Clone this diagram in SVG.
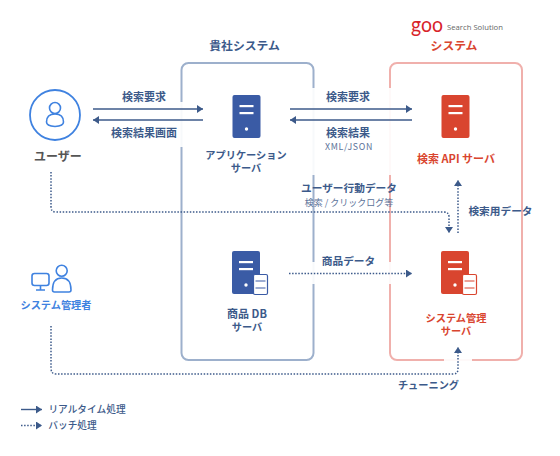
<svg xmlns="http://www.w3.org/2000/svg" width="560" height="456" viewBox="0 0 560 456">
<style>
text{font-family:"Noto Sans CJK JP","Noto Sans",sans-serif;font-weight:700;font-size:10.700px;text-anchor:middle;fill:#3c5a8a}
.kj{font-size:11px}
.sub{font-weight:400;font-size:9px;fill:#5b7299}
.nd{font-size:10.200px}
.lg{font-weight:500;font-size:9.700px}
.bl{fill:#3a5ba5}.rd{fill:#d9452f}
.solid{fill:none;stroke:#3c5a8a;stroke-width:1.400}
.dot{fill:none;stroke:#3c5a8a;stroke-width:1.500;stroke-dasharray:1.500 1.600}
.halo{fill:#fff;fill-opacity:.92}
.ic{fill:none;stroke:#3f82e0;stroke-width:1.600}
</style>
<defs>
<marker id="a" markerUnits="userSpaceOnUse" markerWidth="7" markerHeight="9" refX="6" refY="4" orient="auto"><path d="M0 0L6 4L0 8Z" fill="#3c5a8a"/></marker>
<g id="srv"><rect width="28" height="43" rx="2"/><rect x="7" y="10" width="14" height="2.200" fill="#fff"/><rect x="7" y="17" width="14" height="2.200" fill="#fff"/><circle cx="14" cy="34" r="1.700" fill="#fff"/></g>
</defs>
<g id="system-blue"><rect x="181.500" y="63" width="132" height="297" rx="7" fill="none" stroke="#9db0cc" stroke-width="2"/><text x="244.500" y="50" style="font-size:11.800px">貴社システム</text></g>
<g id="system-red"><rect x="390" y="63" width="132" height="297" rx="7" fill="none" stroke="#f0b0ac" stroke-width="2"/>
<g id="goo-logo"><text x="427" y="32" style="font-family:'Lato',sans-serif;font-size:22px;fill:#d8232a;font-weight:400" textLength="32" lengthAdjust="spacingAndGlyphs">goo</text><text x="475" y="30" style="font-family:'Open Sans',sans-serif;font-size:7.700px;font-weight:400;fill:#666">Search Solution</text></g>
<text x="454" y="50" style="font-size:11.800px;fill:#d9452f">システム</text></g>
<rect class="halo" x="178" y="102" width="8" height="45"/>
<rect class="halo" x="309" y="88" width="8" height="87"/>
<rect class="halo" x="386" y="88" width="8" height="87"/>
<rect class="halo" x="309" y="262" width="8" height="22"/>
<rect class="halo" x="386" y="262" width="8" height="22"/>
<rect class="halo" x="444" y="356" width="28" height="8"/>
<g id="connectors">
<path class="solid" d="M93 109H203" marker-end="url(#a)"/>
<path class="solid" d="M203 120H93" marker-end="url(#a)"/>
<path class="solid" d="M290 109H412" marker-end="url(#a)"/>
<path class="solid" d="M412 120H290" marker-end="url(#a)"/>
<path class="dot" d="M51 172V207Q51 212 56 212H444Q449 212 449 217V233" marker-end="url(#a)"/>
<path class="dot" d="M458 233V180" marker-end="url(#a)"/>
<path class="dot" d="M289 273.500H412" marker-end="url(#a)"/>
<path class="dot" d="M51 326V368Q51 374 56 374H453Q458 374 458 369V347" marker-end="url(#a)"/>
</g>
<g id="labels">
<text x="144" y="101" class="kj">検索要求</text><text x="144" y="137" class="kj">検索結果画面</text>
<text x="348" y="101" class="kj">検索要求</text><text x="348" y="137" class="kj">検索結果</text>
<text x="349" y="150" class="sub" style="letter-spacing:.7px;font-size:8.800px">XML/JSON</text>
<text x="349" y="192">ユーザー行動データ</text>
<text x="349" y="206" class="sub">検索 / クリックログ等</text>
<text x="500.500" y="215">検索用データ</text>
<text x="348.500" y="265">商品データ</text>
<text x="428.500" y="389" class="nd">チューニング</text>
</g>
<g id="user"><circle cx="55" cy="115" r="25" fill="none" stroke="#3f82e0" stroke-width="1.800"/><circle cx="55" cy="108" r="5.500" class="ic"/><path class="ic" d="M46.500 122Q46.500 114 55 114Q63.500 114 63.500 122Q63.500 126 55 126.500Q46.500 126 46.500 122Z"/><text x="58" y="160.500" style="font-size:12px;fill:#555">ユーザー</text></g>
<g id="admin"><rect x="32" y="273.500" width="17" height="12" rx="2.500" class="ic"/><path class="ic" d="M36 290H45M40.500 286V290"/><circle cx="61.700" cy="270.700" r="5.500" class="ic"/><path class="ic" d="M52.500 290Q52.500 278 61.700 278Q71 278 71 290Q71 292 69 292H54.500Q52.500 292 52.500 290Z"/><text x="56" y="309" class="nd" style="fill:#3f82e0">システム管理者</text></g>
<g id="app-server"><use href="#srv" x="232.500" y="95" class="bl"/><text class="nd"><tspan x="246" y="159">アプリケーション</tspan><tspan x="246" y="172">サーバ</tspan></text></g>
<g id="api-server"><use href="#srv" x="441.500" y="95" class="rd"/><text x="456" y="163" class="kj" style="fill:#d9452f">検索 API サーバ</text></g>
<g id="db-server"><use href="#srv" x="232" y="251" class="bl"/><rect x="253.500" y="274.500" width="14" height="20" rx="1.500" fill="#fff" stroke="#3a5ba5" stroke-width="1.200"/><path d="M255.500 281H265.500M255.500 288H265.500" stroke="#3a5ba5" stroke-width="1.200"/><text class="kj"><tspan x="247" y="318">商品 DB</tspan><tspan x="247" y="331" style="font-size:10.200px">サーバ</tspan></text></g>
<g id="mgmt-server"><use href="#srv" x="441" y="251" class="rd"/><rect x="462.500" y="274.500" width="14" height="20" rx="1.500" fill="#fff" stroke="#d9452f" stroke-width="1.200"/><path d="M464.500 281H474.500M464.500 288H474.500" stroke="#d9452f" stroke-width="1.200"/><text class="nd" style="fill:#d9452f"><tspan x="456" y="321.500">システム管理</tspan><tspan x="456" y="334.500">サーバ</tspan></text></g>
<g id="legend"><path class="solid" d="M21 409.500H42" marker-end="url(#a)"/><path class="dot" d="M21 425.500H42" marker-end="url(#a)"/><text x="87" y="413" class="lg">リアルタイム処理</text><text x="72.500" y="429" class="lg">バッチ処理</text></g>
</svg>
